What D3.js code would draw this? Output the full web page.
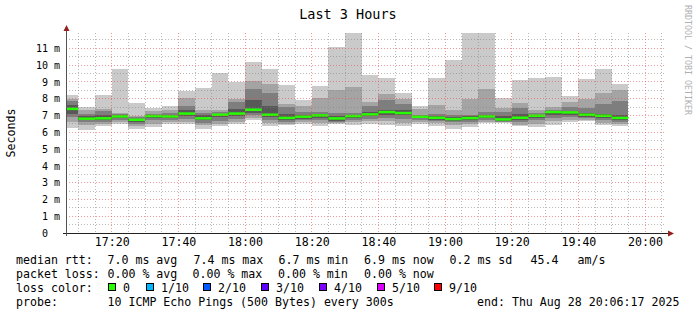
<!DOCTYPE html>
<html>
<head>
<meta charset="utf-8">
<script src="https://cdn.jsdelivr.net/npm/d3@7"></script>
<style>
  body { margin: 0; background: #fff; }
  text { font-family: "DejaVu Sans Mono", monospace; fill: #000; }
</style>
</head>
<body>
<div id="chart"></div>
<script>
// end time of each 5 minute step (the first one starts at the graph start)
var barEnds = ["17:10","17:15","17:20","17:25","17:30","17:35","17:40","17:45","17:50","17:55",
  "18:00","18:05","18:10","18:15","18:20","18:25","18:30","18:35","18:40","18:45",
  "18:50","18:55","19:00","19:05","19:10","19:15","19:20","19:25","19:30","19:35",
  "19:40","19:45","19:50","19:55"];

// the 10 pings of each step, sorted (ms)
var rtt1 = [6.23,6.11,6.35,6.5,6.19,6.3,6.47,6.5,6.2,6.35,6.5,6.74,6.37,6.4,6.49,6.38,6.5,6.45,6.49,6.45,6.35,6.49,6.38,6.2,6.3,6.53,6.55,6.35,6.32,6.45,6.58,6.66,6.45,6.35];
var rtt2 = [6.6,6.45,6.5,6.6,6.35,6.5,6.6,6.62,6.4,6.5,6.6,6.85,6.55,6.5,6.58,6.55,6.55,6.6,6.65,6.65,6.55,6.6,6.52,6.45,6.5,6.62,6.58,6.45,6.5,6.65,6.7,6.72,6.55,6.48];
var rtt3 = [6.9,6.6,6.62,6.72,6.5,6.7,6.72,6.8,6.55,6.65,6.8,7.0,6.75,6.6,6.7,6.7,6.6,6.72,6.8,6.85,6.8,6.72,6.65,6.6,6.62,6.72,6.62,6.6,6.7,6.85,6.9,6.82,6.7,6.6];
var rtt4 = [7.1,6.7,6.72,6.82,6.6,6.85,6.82,6.95,6.7,6.9,6.98,7.15,6.9,6.72,6.8,6.85,6.68,6.85,6.95,7.05,7.0,6.82,6.75,6.68,6.72,6.82,6.68,6.72,6.85,7.05,7.05,6.92,6.82,6.72];
var rtt5 = [7.36,6.78,6.8,6.92,6.72,6.94,6.92,7.08,6.8,7.02,7.08,7.3,7.0,6.82,6.9,6.98,6.79,6.94,7.04,7.18,7.11,6.9,6.84,6.76,6.81,6.91,6.73,6.83,6.96,7.18,7.16,7.02,6.95,6.82];
var rtt6 = [7.42,6.83,6.85,6.96,6.76,6.98,6.96,7.14,6.85,7.06,7.14,7.38,7.08,6.88,6.95,7.02,6.85,6.98,7.08,7.22,7.17,6.94,6.88,6.8,6.87,6.97,6.79,6.89,7.0,7.22,7.2,7.06,7.01,6.88];
var rtt7 = [7.6,6.95,7.0,7.0,6.8,7.02,7.0,7.3,7.0,7.1,7.4,7.9,7.55,7.1,7.05,7.08,6.98,7.02,7.2,7.35,7.3,6.98,6.95,6.92,6.95,7.02,6.95,7.1,7.05,7.25,7.25,7.15,7.1,7.0];
var rtt8 = [7.85,7.1,7.25,7.08,6.88,7.1,7.12,7.55,7.15,7.18,7.8,8.55,8.35,7.5,7.2,7.2,7.15,7.15,7.55,7.9,7.7,7.05,7.1,7.05,7.05,7.2,7.2,7.45,7.15,7.35,7.5,7.46,7.7,7.85];
var rtt9 = [8.0,7.35,7.4,7.15,6.95,7.25,7.35,8.05,7.3,7.3,7.95,9.05,8.85,7.7,7.55,8.03,8.53,8.69,7.78,8.25,8.0,7.4,7.6,7.3,7.95,8.59,7.45,7.76,7.35,7.5,7.82,8.0,8.31,8.49];
var rtt10 = [8.23,7.52,8.23,9.78,7.76,7.42,7.56,8.43,8.63,9.5,8.97,10.2,9.78,8.83,7.93,8.77,11.07,12.3,9.42,9.24,8.35,7.58,9.24,10.27,12.3,12.3,8.03,9.12,9.24,9.3,8.17,9.17,9.78,8.89];

var yTicks = [0,1,2,3,4,5,6,7,8,9,10,11];
var smokeColors = ["#cacaca","#a4a4a4","#7e7e7e","#585858","#323232"];
var lossLabels = ["0","1/10","2/10","3/10","4/10","5/10","9/10"];
var lossColors = ["#26ff00","#00b8ff","#0059ff","#5e00ff","#7e00ff","#dd00ff","#ff0000"];
var rttStats = ["7.0 ms avg","7.4 ms max","6.7 ms min","6.9 ms now","0.2 ms sd","45.4","am/s"];
var lossStats = ["0.00 % avg","0.00 % max","0.00 % min","0.00 % now"];

var parse = d3.timeParse("%Y-%m-%d %H:%M:%S");
var tStart = parse("2025-08-28 17:06:17");
var tEnd = parse("2025-08-28 20:06:17");

var svg = d3.select("#chart").append("svg")
    .attr("width", 697)
    .attr("height", 315);
svg.append("rect").attr("width", 697).attr("height", 315).attr("fill", "#fff");

var x = d3.scaleTime().domain([tStart, tEnd]).range([66, 666]);
var y = d3.scaleLinear().domain([0, 11.905]).range([233, 33]);

svg.append("clipPath").attr("id", "plot")
  .append("rect").attr("x", 66).attr("y", 33).attr("width", 600).attr("height", 200);

// build the steps
var pings = [rtt1,rtt2,rtt3,rtt4,rtt5,rtt6,rtt7,rtt8,rtt9,rtt10];
var steps = barEnds.map(function(t, i) {
  var end = parse("2025-08-28 " + t + ":00");
  var begin = d3.max([tStart, d3.timeMinute.offset(end, -5)]);
  return { begin: begin, end: end, p: pings.map(function(a) { return a[i]; }) };
});

var data = svg.append("g").attr("clip-path", "url(#plot)");

// smoke: band k goes from ping k to ping 10-k
smokeColors.forEach(function(col, k) {
  data.append("g").selectAll("rect")
    .data(steps).enter().append("rect")
    .attr("x", function(d) { return x(d.begin); })
    .attr("width", function(d) { return x(d.end) - x(d.begin); })
    .attr("y", function(d) { return y(d.p[9 - k]); })
    .attr("height", function(d) { return y(d.p[k]) - y(d.p[9 - k]); })
    .attr("fill", col)
    .attr("shape-rendering", "crispEdges");
});

// median
data.append("g").selectAll("rect")
  .data(steps).enter().append("rect")
  .attr("x", function(d) { return x(d.begin); })
  .attr("width", function(d) { return x(d.end) - x(d.begin); })
  .attr("y", function(d) { return y((d.p[4] + d.p[5]) / 2) - 1.25; })
  .attr("height", 2.5)
  .attr("fill", lossColors[0]);

// grid on top
var grid = svg.append("g").attr("shape-rendering", "crispEdges");
var minorT = x.ticks(d3.timeMinute.every(5)).filter(function(d) { return d.getMinutes() % 20 !== 0; });
var majorT = x.ticks(d3.timeMinute.every(20));
var minorV = d3.range(0.5, 11.9, 1);
var majorV = yTicks.filter(function(v) { return v > 0; });
var gMinor = "rgba(130,130,130,0.55)", gMajor = "rgba(235,70,70,0.55)";

function vLines(vals, col) {
  grid.append("g").selectAll("line").data(vals).enter().append("line")
    .attr("x1", function(d) { return Math.floor(x(d)) + 0.5; })
    .attr("x2", function(d) { return Math.floor(x(d)) + 0.5; })
    .attr("y1", 33).attr("y2", 233)
    .attr("stroke", col).attr("stroke-dasharray", "1,2");
}
function hLines(vals, col) {
  grid.append("g").selectAll("line").data(vals).enter().append("line")
    .attr("y1", function(d) { return Math.floor(y(d)) + 0.5; })
    .attr("y2", function(d) { return Math.floor(y(d)) + 0.5; })
    .attr("x1", 66).attr("x2", 666)
    .attr("stroke", col).attr("stroke-dasharray", "1,2");
}
vLines(minorT, gMinor);
hLines(minorV, gMinor);
vLines(majorT, gMajor);
hLines(majorV, gMajor);

// axes labels
var yAxis = d3.axisLeft(y).tickValues(yTicks)
  .tickFormat(function(d) { return d === 0 ? "0\u00a0\u00a0" : d + " m"; })
  .tickSize(0).tickPadding(6);
var gy = svg.append("g").attr("transform", "translate(66,0)").call(yAxis);
gy.select(".domain").remove();
gy.selectAll("text").style("font-family", "DejaVu Sans Mono").style("font-size", "10px").style("fill", "#000");

var xAxis = d3.axisBottom(x).ticks(d3.timeMinute.every(20))
  .tickFormat(d3.timeFormat("%H:%M")).tickSize(0).tickPadding(5);
var gx = svg.append("g").attr("transform", "translate(0,233)").call(xAxis);
gx.select(".domain").remove();
gx.selectAll("text").style("font-family", "DejaVu Sans Mono").style("font-size", "11.6px").style("fill", "#000");

// axis lines and arrows
svg.append("line").attr("x1", 63).attr("x2", 669).attr("y1", 233.5).attr("y2", 233.5).attr("stroke", "#222");
svg.append("line").attr("x1", 66.5).attr("x2", 66.5).attr("y1", 30).attr("y2", 236).attr("stroke", "#555");
svg.append("path").attr("d", "M668,230.5L674,233.5L668,236.5Z").attr("fill", "#952020");
svg.append("path").attr("d", "M63.5,31L66.5,25L69.5,31Z").attr("fill", "#952020");

// title, unit, watermark
svg.append("text").attr("x", 348).attr("y", 18.5).attr("text-anchor", "middle")
  .style("font-size", "13.5px").text("Last 3 Hours");
svg.append("text").attr("transform", "translate(15,133) rotate(-90)").attr("text-anchor", "middle")
  .style("font-size", "11.6px").text("Seconds");
svg.append("text").attr("transform", "translate(685,5) rotate(90)")
  .style("font-size", "8.3px").style("fill", "#b0b0b0").text("RRDTOOL / TOBI OETIKER");

// legend
var leg = svg.append("g").style("font-size", "11.6px");
function t(xp, yp, s) { leg.append("text").attr("x", xp).attr("y", yp).text(s); }
var rows = [263.5, 277.5, 291.5, 305.5];
t(16, rows[0], "median rtt:");
[107.5, 193.5, 278.5, 364, 449.5, 530.5, 577.5].forEach(function(xp, i) { t(xp, rows[0], rttStats[i]); });
t(16, rows[1], "packet loss:");
[107.5, 192.5, 278, 364].forEach(function(xp, i) { t(xp, rows[1], lossStats[i]); });
t(16, rows[2], "loss color:");
var boxX = [108.5, 146.5, 203.5, 261.5, 319.5, 377.5, 434.5];
leg.selectAll(".lbox").data(lossColors).enter().append("rect")
  .attr("x", function(d, i) { return boxX[i]; })
  .attr("y", 283.5).attr("width", 7).attr("height", 7)
  .attr("fill", function(d) { return d; }).attr("stroke", "#000");
lossLabels.forEach(function(s, i) { t(boxX[i] + 14.5, rows[2], s); });
t(16, rows[3], "probe:");
t(107.5, rows[3], "10 ICMP Echo Pings (500 Bytes) every 300s");
t(477, rows[3], "end: Thu Aug 28 20:06:17 2025");
</script>
</body>
</html>
